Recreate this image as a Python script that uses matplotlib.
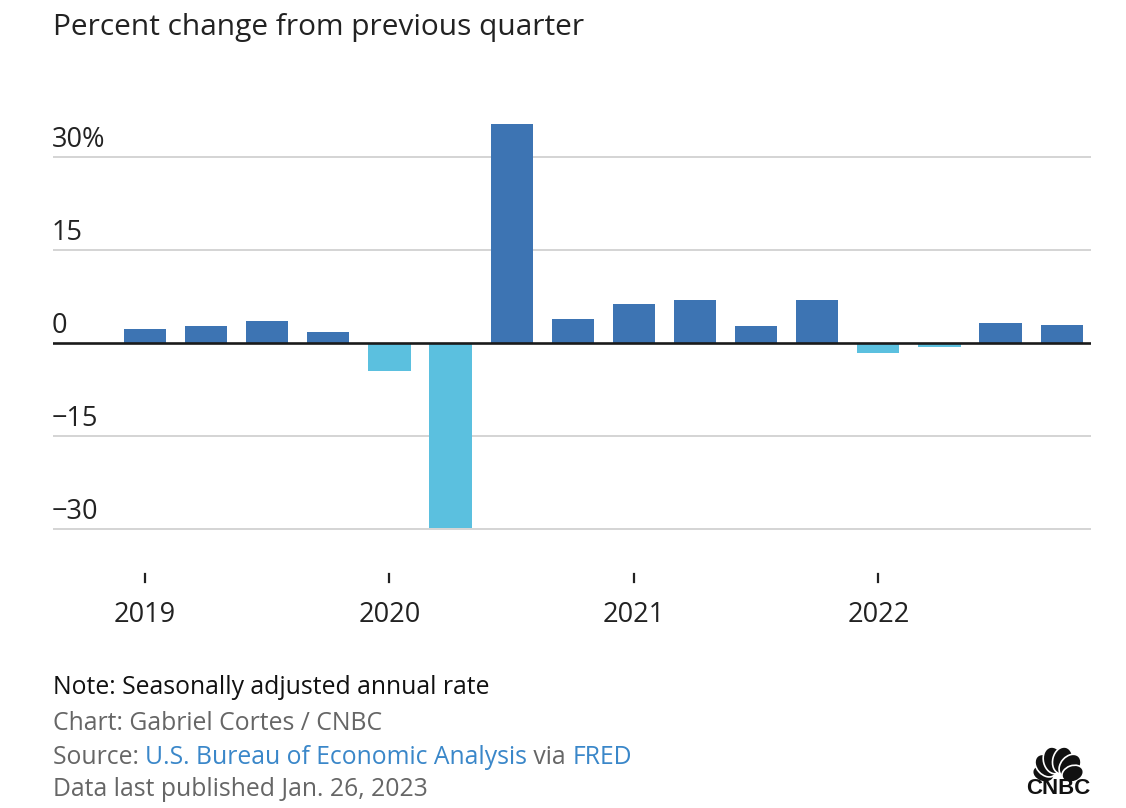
import matplotlib
matplotlib.use("Agg")
import matplotlib.pyplot as plt
from matplotlib.patches import Ellipse
import numpy as np

plt.rcParams['font.family'] = ['Open Sans', 'DejaVu Sans']

# quarterly real GDP change, SAAR (%)
quarters = ['2019Q1', '2019Q2', '2019Q3', '2019Q4',
            '2020Q1', '2020Q2', '2020Q3', '2020Q4',
            '2021Q1', '2021Q2', '2021Q3', '2021Q4',
            '2022Q1', '2022Q2', '2022Q3', '2022Q4']
values = [2.2, 2.7, 3.6, 1.8,
          -4.6, -29.9, 35.3, 3.9,
          6.3, 7.0, 2.7, 7.0,
          -1.6, -0.6, 3.2, 2.9]
year_labels = ['2019', '2020', '2021', '2022']
ytick_vals = [30, 15, 0, -15, -30]
ytick_text = ['30%', '15', '0', '\u221215', '\u221230']

POS = '#3d74b3'
NEG = '#5bc0df'
TXT = '#222222'
GREY = '#666666'
LINK = '#3a87c9'

W, H = 1126, 808
fig = plt.figure(figsize=(W / 100, H / 100), dpi=100)

# axes placed in pixel units
left, right, top, bottom = 53, 1091, 110, 545
ax = fig.add_axes([left / W, 1 - bottom / H, (right - left) / W, (bottom - top) / H])

x = np.arange(len(values))
colors = [POS if v >= 0 else NEG for v in values]
ax.bar(x, values, width=0.69, color=colors, zorder=2)

ax.set_xlim(-1.506, 15.48)
ax.set_ylim(-32.6, 37.6)

for v in ytick_vals:
    if v == 0:
        ax.axhline(0, color='#1a1a1a', lw=1.9, zorder=3)
    else:
        ax.axhline(v, color='#d4d4d4', lw=1.4, zorder=1)

for v, t in zip(ytick_vals, ytick_text):
    ax.annotate(t, xy=(0, v), xycoords=('axes fraction', 'data'),
                xytext=(-1, 2), textcoords='offset points',
                fontsize=19.5, color=TXT, ha='left', va='bottom')

for s in ax.spines.values():
    s.set_visible(False)
ax.set_yticks([])
ax.set_xticks([])

# year ticks and labels below the plot
for i, yl in enumerate(year_labels):
    xi = i * 4
    ax.plot([xi, xi], [-0.066, -0.085], transform=ax.get_xaxis_transform(),
            color=TXT, lw=1.6, clip_on=False)
    ax.text(xi, -0.161, yl, transform=ax.get_xaxis_transform(),
            ha='center', va='center', fontsize=19.5, color=TXT)

# title
fig.text(left / W, 1 - 27 / H, 'Percent change from previous quarter',
         ha='left', va='center', fontsize=21.5, color=TXT)

# footer
fs = 17.8
fig.text(left / W, 1 - 688 / H, 'Note: Seasonally adjusted annual rate',
         ha='left', va='center', fontsize=fs, color='#111111')
fig.text(left / W, 1 - 723 / H, 'Chart: Gabriel Cortes / CNBC',
         ha='left', va='center', fontsize=fs, color=GREY)
t1 = fig.text(left / W, 1 - 757 / H, 'Source: ', ha='left', va='center',
              fontsize=fs, color=GREY)
t2 = fig.text(0, 0, 'U.S. Bureau of Economic Analysis', fontsize=fs, color=LINK)
t3 = fig.text(0, 0, ' via ', fontsize=fs, color=GREY)
t4 = fig.text(0, 0, 'FRED', fontsize=fs, color=LINK)
fig.canvas.draw()
r = fig.canvas.get_renderer()
prev = t1
for t in (t2, t3, t4):
    bb = prev.get_window_extent(renderer=r)
    t.set_position((bb.x1 / W, 1 - 757 / H))
    t.set_ha('left')
    t.set_va('center')
    fig.canvas.draw()
    prev = t
fig.text(left / W, 1 - 789 / H, 'Data last published Jan. 26, 2023',
         ha='left', va='center', fontsize=fs, color=GREY)

# rough CNBC peacock mark
lx0, lx1, ly0, ly1 = 1022, 1094, 738, 798
lax = fig.add_axes([lx0 / W, 1 - ly1 / H, (lx1 - lx0) / W, (ly1 - ly0) / H])
lax.set_xlim(-36, 36)
lax.set_ylim(-26, 34)
lax.set_aspect('equal')
lax.axis('off')
angles = [-70, -42, -14, 14, 42, 70]
lens = [26, 30, 32, 32, 30, 26]
for a, L in zip(angles, lens):
    th = np.deg2rad(90 - a)
    d = L * 0.6
    cx, cy = d * np.cos(th), d * np.sin(th) - 7
    lax.add_patch(Ellipse((cx, cy), width=L * 0.62, height=L * 0.85,
                          angle=-a, facecolor='#111111',
                          edgecolor='white', lw=1.2))
lax.text(0, -16, 'CNBC', ha='center', va='center', fontsize=16,
         fontweight='bold', family=['Liberation Sans', 'DejaVu Sans'],
         color='#111111')

fig.savefig('out.png', dpi=100)
